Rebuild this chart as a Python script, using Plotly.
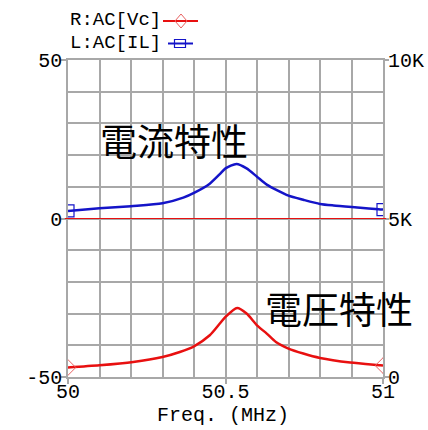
import plotly.graph_objects as go

# ---- data ----
freq_il = [50.0, 50.1, 50.2, 50.3, 50.366, 50.4, 50.45, 50.482, 50.5, 50.535, 50.567, 50.6,
           50.631, 50.7, 50.747, 50.8, 50.843, 50.928, 50.986, 51.0]
il_vals = [2.4, 3.2, 3.9, 4.8, 6.6, 8.1, 11.0, 14.0, 15.8, 17.2, 15.8, 13.2,
           10.7, 7.2, 5.9, 4.6, 4.1, 3.4, 2.9, 2.8]

freq_vc = [50.0, 50.1, 50.207, 50.3, 50.355, 50.4, 50.45, 50.482, 50.5, 50.537, 50.567, 50.6,
           50.631, 50.66, 50.7, 50.747, 50.8, 50.896, 50.991, 51.0]
vc_vals = [300, 369, 474, 632, 790, 969, 1317, 1686, 1895, 2179, 2002, 1632,
           1370, 1105, 897, 739, 600, 455, 369, 360]

x_ticks = [50, 50.5, 51]
x_ticktext = ["50", "50.5", "51"]
yl_ticks = [-50, 0, 50]
yl_ticktext = ["-50", "0", "50"]
yr_ticks = [0, 5000, 10000]
yr_ticktext = ["0", "5K", "10K"]

BLUE = "#1414c8"
RED = "#e81010"
GRID = "#a8a8a8"
MONO = "Liberation Mono"
CJK = "Noto Sans CJK JP"

W, H = 428, 430
L, R, T, B = 68, 45, 60, 53
pw, ph = W - L - R, H - T - B

def px(xp):
    return (xp - L) / pw

def py(yp):
    return (H - B - yp) / ph

fig = go.Figure()

fig.add_trace(go.Scatter(
    x=freq_il, y=il_vals, mode="lines", line=dict(color=BLUE, width=2.5, shape="spline", smoothing=0.7),
    yaxis="y", showlegend=False, hoverinfo="skip"))
fig.add_trace(go.Scatter(
    x=[freq_il[0], freq_il[-1]], y=[il_vals[0], il_vals[-1]], mode="markers",
    marker=dict(symbol="square-open", size=12, color=BLUE, line=dict(width=1.2, color=BLUE)),
    yaxis="y", showlegend=False, hoverinfo="skip", cliponaxis=True))

fig.add_trace(go.Scatter(
    x=freq_vc, y=vc_vals, mode="lines", line=dict(color=RED, width=2.5, shape="spline", smoothing=0.7),
    yaxis="y2", showlegend=False, hoverinfo="skip"))
fig.add_trace(go.Scatter(
    x=[freq_vc[0], freq_vc[-1]], y=[vc_vals[0], vc_vals[-1]], mode="markers",
    marker=dict(symbol="diamond-open", size=12, color="#e86060", line=dict(width=1, color="#e86060")),
    yaxis="y2", showlegend=False, hoverinfo="skip", cliponaxis=True))

tick_font = dict(family=MONO, size=20, color="black")

fig.update_layout(
    width=W, height=H,
    font=dict(family=MONO),
    margin=dict(l=L, r=R, t=T, b=B, autoexpand=False),
    paper_bgcolor="white", plot_bgcolor="white",
    xaxis=dict(
        range=[50, 51], tickvals=x_ticks, ticktext=x_ticktext, automargin=False,
        ticks="outside", ticklen=5, tickcolor=GRID, tickwidth=1.5, ticklabelstandoff=-10,
        tickfont=tick_font,
        showgrid=True, gridcolor=GRID, gridwidth=1.5,
        minor=dict(dtick=0.1, showgrid=True, gridcolor=GRID, gridwidth=1.5, ticks=""),
        showline=True, linecolor=GRID, linewidth=1.5, mirror=True, zeroline=False,
    ),
    yaxis=dict(
        range=[-50, 50], tickvals=yl_ticks, ticktext=yl_ticktext, automargin=False,
        ticks="outside", ticklen=5, tickcolor=GRID, tickwidth=1.5, ticklabelstandoff=-5,
        tickfont=tick_font,
        showgrid=True, gridcolor=GRID, gridwidth=1.5,
        minor=dict(dtick=10, showgrid=True, gridcolor=GRID, gridwidth=1.5, ticks=""),
        showline=True, linecolor=GRID, linewidth=1.5, mirror=True, zeroline=False,
    ),
    yaxis2=dict(
        range=[0, 10000], tickvals=yr_ticks, ticktext=yr_ticktext, overlaying="y", side="right",
        automargin=False, ticks="outside", ticklen=5, tickcolor=GRID, tickwidth=1.5, ticklabelstandoff=-5,
        tickfont=tick_font,
        showgrid=False, zeroline=False, showline=False,
    ),
    showlegend=False,
)

# red zero reference line on the left axis
fig.add_shape(type="line", xref="paper", yref="y", x0=-0.01, x1=1.01, y0=0, y1=0,
              line=dict(color=RED, width=1), layer="above")

# x-axis title
fig.add_annotation(xref="paper", yref="paper", x=px(223), y=py(415), xanchor="center", yanchor="middle",
                   text="Freq. (MHz)", showarrow=False, font=dict(family=MONO, size=20, color="black"))

# legend (text left, sample right)
fig.add_annotation(xref="paper", yref="paper", x=px(68), y=py(20), xanchor="left", yanchor="middle",
                   text="R:AC[Vc]", showarrow=False, font=dict(family=MONO, size=19, color="black"))
fig.add_annotation(xref="paper", yref="paper", x=px(68), y=py(43), xanchor="left", yanchor="middle",
                   text="L:AC[IL]", showarrow=False, font=dict(family=MONO, size=19, color="black"))
fig.add_shape(type="line", xref="paper", yref="paper", x0=px(163), x1=px(198), y0=py(21), y1=py(21),
              line=dict(color=RED, width=2))
fig.add_shape(type="path", xref="paper", yref="paper",
              path=f"M {px(175)} {py(21)} L {px(181)} {py(14)} L {px(187)} {py(21)} L {px(181)} {py(28)} Z",
              line=dict(color="#e86060", width=1))
fig.add_shape(type="line", xref="paper", yref="paper", x0=px(168), x1=px(193), y0=py(43.5), y1=py(43.5),
              line=dict(color=BLUE, width=2))
fig.add_shape(type="rect", xref="paper", yref="paper", x0=px(174.5), x1=px(185.5), y0=py(39.5), y1=py(47.5),
              line=dict(color=BLUE, width=1.2))

# curve titles
fig.add_annotation(xref="paper", yref="paper", x=px(174), y=py(140), text="電流特性", showarrow=False,
                   font=dict(family=CJK, size=37, color="black"), xanchor="center", yanchor="middle")
fig.add_annotation(xref="paper", yref="paper", x=px(339), y=py(308), text="電圧特性", showarrow=False,
                   font=dict(family=CJK, size=37, color="black"), xanchor="center", yanchor="middle")

fig.write_html("out.html")
